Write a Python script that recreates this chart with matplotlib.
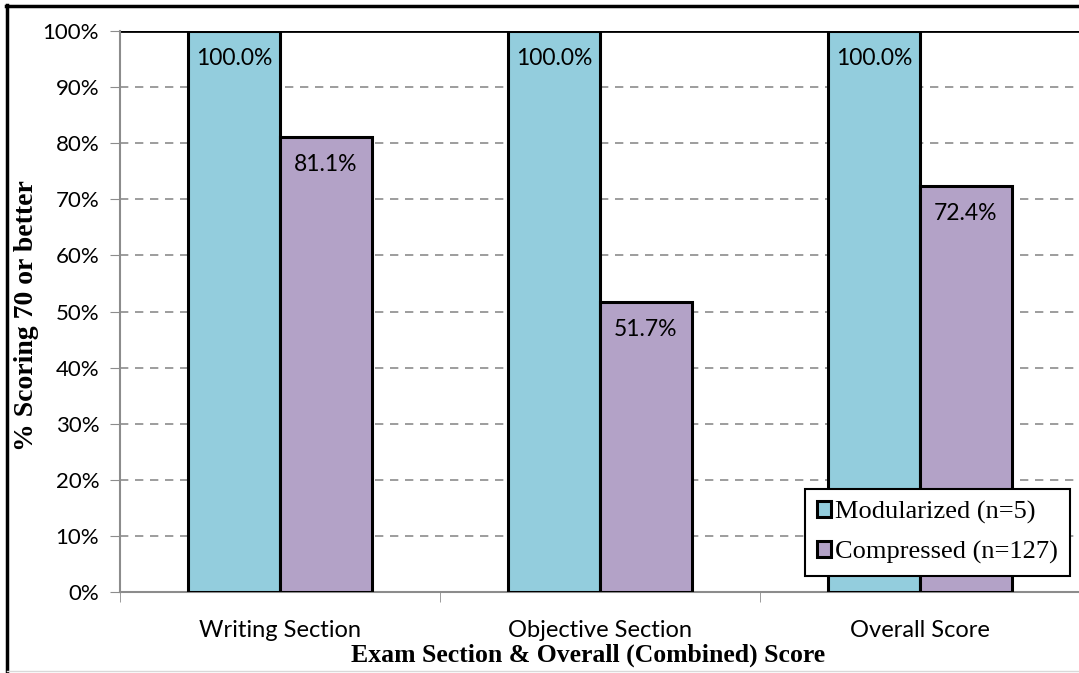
import matplotlib
matplotlib.use("Agg")
import matplotlib.pyplot as plt
import numpy as np
from matplotlib.lines import Line2D

categories = ["Writing Section", "Objective Section", "Overall Score"]
modularized = [100.0, 100.0, 100.0]
compressed = [81.1, 51.7, 72.4]
series_names = ["Modularized (n=5)", "Compressed (n=127)"]
y_ticks = [0, 10, 20, 30, 40, 50, 60, 70, 80, 90, 100]

W, H = 1079, 673
fig = plt.figure(figsize=(W / 100, H / 100), dpi=100)

def fx(px):
    return px / W

def fy(py):
    return 1 - py / H

ax_left, ax_right, ax_top, ax_bottom = 120, 1080, 31, 592
ax = fig.add_axes([fx(ax_left), fy(ax_bottom), fx(ax_right) - fx(ax_left), fy(ax_top) - fy(ax_bottom)])

blue = "#93CDDD"
purple = "#B3A2C7"
sans = "Lato"
serif = "Liberation Serif"

x = np.arange(len(categories))
bw = 0.286
b1 = ax.bar(x - bw / 2, modularized, bw, color=blue, edgecolor="black", linewidth=2.2, zorder=3,
            label=series_names[0])
b2 = ax.bar(x + bw / 2, compressed, bw, color=purple, edgecolor="black", linewidth=2.2, zorder=3,
            label=series_names[1])

for bars, vals in ((b1, modularized), (b2, compressed)):
    for rect, v in zip(bars, vals):
        ax.annotate(f"{v:.1f}%", (rect.get_x() + rect.get_width() / 2, v), xytext=(0, -20),
                    textcoords="offset points", ha="center", va="center",
                    fontsize=16.5, family=sans, zorder=4)

ax.set_xlim(-0.5, 2.5)
ax.set_ylim(0, 100)
ax.set_yticks(y_ticks)
ax.set_yticklabels([f"{t}%" for t in y_ticks], fontsize=16, family=sans)
ax.set_xticks(x)
ax.set_xticklabels(categories, fontsize=17, family=sans)
ax.tick_params(axis="x", length=0, pad=20)
ax.set_xticks([-0.5, 0.5, 1.5, 2.5], minor=True)
ax.tick_params(axis="x", which="minor", length=7, color="#8c8c8c", direction="out")
ax.tick_params(axis="y", length=7, color="#8c8c8c", direction="out", pad=8)

ax.yaxis.grid(True, linestyle=(0, (5, 4)), color="#8c8c8c", linewidth=1.2, zorder=0)
ax.yaxis.get_gridlines()[-1].set_visible(False)
ax.axhline(100, color="black", linewidth=2, zorder=2)

for s in ("top", "right"):
    ax.spines[s].set_visible(False)
for s in ("left", "bottom"):
    ax.spines[s].set_color("#8c8c8c")
    ax.spines[s].set_linewidth(1.5)

leg = ax.legend(loc="lower right",
                bbox_to_anchor=((1070 - ax_left) / (ax_right - ax_left),
                                (ax_bottom - 576) / (ax_bottom - ax_top)),
                bbox_transform=ax.transAxes, prop={"family": serif, "size": 19},
                frameon=True, fancybox=False, edgecolor="black", framealpha=1,
                handlelength=0.55, handleheight=0.55, handletextpad=0.15, labelspacing=0.65,
                borderpad=0.45, borderaxespad=0)
leg.get_frame().set_linewidth(1.5)
leg.set_zorder(5)
for h in leg.legend_handles:
    h.set_linewidth(2.2)

fig.text(fx(588), fy(655), "Exam Section & Overall (Combined) Score", ha="center", va="center",
         fontsize=18.5, fontweight="bold", family=serif)
fig.text(fx(27), fy(316), "% Scoring 70 or better", ha="center", va="center", rotation=90,
         fontsize=20, fontweight="bold", family=serif)

# outer chart frame
fig.add_artist(Line2D([fx(7), fx(7)], [fy(5), fy(672)], color="black", linewidth=2.5))
fig.add_artist(Line2D([fx(6), 1], [fy(6), fy(6)], color="black", linewidth=2.5))
fig.add_artist(Line2D([fx(7), 1], [fy(671), fy(671)], color="#d9d9d9", linewidth=1))

fig.savefig("out.png", dpi=100)
